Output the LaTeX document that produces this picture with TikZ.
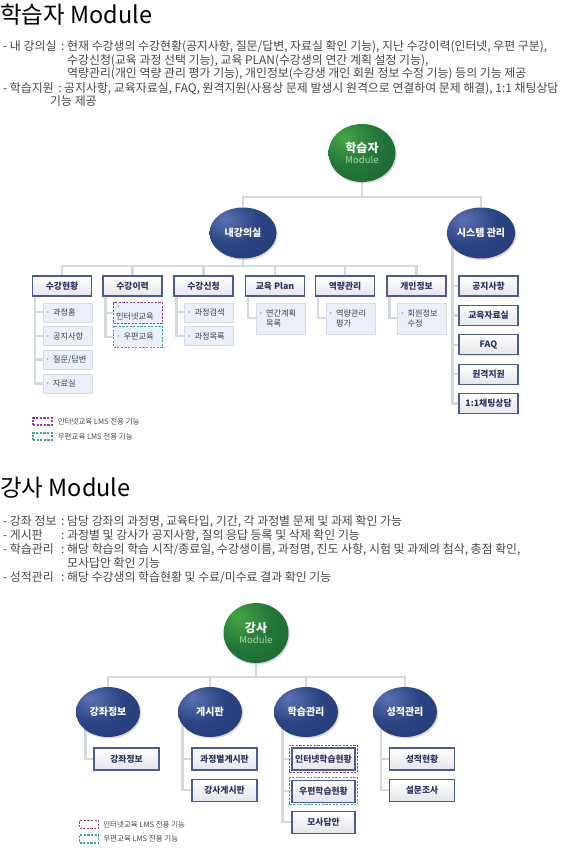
\documentclass[tikz,border=0pt]{standalone}
\usepackage{fontspec}
\setmainfont{Noto Sans CJK KR}
\usetikzlibrary{positioning, shapes.geometric, fit, backgrounds, shadows}

\definecolor{bodyclr}{HTML}{474747}
\definecolor{connclr}{HTML}{D3DADE}
\definecolor{boxline}{HTML}{4B5A9A}
\definecolor{boxbot}{HTML}{E4E5EA}
\definecolor{boxtxt}{HTML}{2C3566}
\definecolor{subfill}{HTML}{EAF0F9}
\definecolor{subline}{HTML}{D2DDEE}
\definecolor{subtxt}{HTML}{3A3F55}
\definecolor{inetclr}{HTML}{9A3D9C}
\definecolor{postclr}{HTML}{3BA897}
\definecolor{modgreen}{HTML}{A9D9A0}
\definecolor{greenin}{HTML}{45A443}
\definecolor{greenmid}{HTML}{23783A}
\definecolor{greenout}{HTML}{1A6130}
\definecolor{navyin}{HTML}{5A72B4}
\definecolor{navymid}{HTML}{2C4483}
\definecolor{navyout}{HTML}{223874}

\pgfdeclareradialshading{greenball}{\pgfpoint{-14bp}{14bp}}{color(0bp)=(greenin); color(22bp)=(greenmid); color(50bp)=(greenout); color(100bp)=(greenout)}
\pgfdeclareradialshading{navyball}{\pgfpoint{-14bp}{14bp}}{color(0bp)=(navyin); color(22bp)=(navymid); color(50bp)=(navyout); color(100bp)=(navyout)}

\begin{document}
\begin{tikzpicture}[x=1pt, y=-1pt,
    conn/.style={draw=connclr, line width=2.4pt},
    bodytxt/.style={anchor=base west, inner sep=0pt, text=bodyclr, font=\fontsize{11.9}{13}\selectfont},
    titletxt/.style={anchor=west, inner sep=0pt, text=black, font=\fontsize{23.5}{26}\selectfont},
    rootball/.style={ellipse, minimum width=67pt, minimum height=58pt, shade, shading=greenball, align=center, text=white, inner sep=0pt, drop shadow={opacity=0.3, shadow xshift=1.2pt, shadow yshift=-1.5pt}},
    menuball/.style={ellipse, minimum width=67pt, minimum height=51pt, shade, shading=navyball, text=white, inner sep=0pt, font=\bfseries\fontsize{10}{12}\selectfont, drop shadow={opacity=0.3, shadow xshift=1.2pt, shadow yshift=-1.5pt}},
    catbox/.style={draw=boxline, line width=1.1pt, top color=white, bottom color=boxbot, minimum width=59pt, minimum height=20pt, inner sep=0pt, text=boxtxt, font=\bfseries\fontsize{8.8}{11}\selectfont, drop shadow={opacity=0.2, shadow xshift=0.8pt, shadow yshift=-0.8pt}},
    itembox/.style={catbox, minimum width=65pt, minimum height=22pt, font=\bfseries\fontsize{8.8}{11}\selectfont},
    subbox/.style={draw=subline, fill=subfill, text width=44pt, align=left, inner xsep=2.5pt, inner ysep=0pt, minimum height=19pt, text=subtxt, font=\fontsize{8.2}{10.5}\selectfont, anchor=north},
    inetdash/.style={draw=inetclr, line width=1.2pt, dash pattern=on 2.2pt off 1.4pt},
    postdash/.style={draw=postclr, line width=1.2pt, dash pattern=on 2.2pt off 1.4pt},
    legbox/.style={minimum width=19pt, minimum height=7pt, inner sep=0pt},
    legtxt/.style={inner sep=0pt, text=bodyclr, font=\fontsize{7.5}{9}\selectfont}
  ]
  \useasboundingbox (0,0) rectangle (568,858);

  % 학습자 설명
  \node[titletxt] (title1) at (0,15) {학습자 Module};
  \node[bodytxt] (myroomlbl) at (3,50.5) {- 내 강의실};
  \node[bodytxt] (myroomcol) at (61,50.5) {:};
  \node[bodytxt] (myroomtxt1) at (67,50.5) {현재 수강생의 수강현황(공지사항, 질문/답변, 자료실 확인 기능), 지난 수강이력(인터넷, 우편 구분),};
  \node[bodytxt] (myroomtxt2) at (67,64.5) {수강신청(교육 과정 선택 기능), 교육 PLAN(수강생의 연간 계획 설정 기능),};
  \node[bodytxt] (myroomtxt3) at (67,78) {역량관리(개인 역량 관리 평가 기능), 개인정보(수강생 개인 회원 정보 수정 기능) 등의 기능 제공};
  \node[bodytxt] (supportlbl) at (3,92.5) {- 학습지원};
  \node[bodytxt] (supportcol) at (58.5,92.5) {:};
  \node[bodytxt] (supporttxt1) at (64,92.5) {공지사항, 교육자료실, FAQ, 원격지원(사용상 문제 발생시 원격으로 연결하여 문제 해결), 1:1 채팅상담};
  \node[bodytxt] (supporttxt2) at (50,106) {기능 제공};

  % 학습자 트리
  \node[rootball] (learner) at (362,153) {{\bfseries\fontsize{12}{14}\selectfont 학습자}\\[-1pt]{\color{modgreen}\fontsize{9.5}{11}\selectfont Module}};
  \node[menuball] (myroom) at (243,233) {내강의실};
  \node[menuball] (sysmgr) at (481,233) {시스템 관리};

  \foreach \i/\x/\t in {1/62/수강현황, 2/132.5/수강이력, 3/203.5/수강신청, 4/275/교육 Plan, 5/345/역량관리, 6/416.5/개인정보}
    \node[catbox] (cat\i) at (\x,286) {\t};

  % 하위 항목
  \node[subbox] (s1-1) at ([xshift=5.5pt, yshift=-6pt]cat1.south) {·\hspace{3pt}과정홈};
  \node[subbox, below=4.3pt of s1-1] (s1-2) {·\hspace{3pt}공지사항};
  \node[subbox, below=4.3pt of s1-2] (s1-3) {·\hspace{3pt}질문/답변};
  \node[subbox, below=4.3pt of s1-3] (s1-4) {·\hspace{3pt}자료실};
  \node[subbox, inetdash, minimum height=21pt] (s2-1) at ([xshift=5.5pt, yshift=-5.5pt]cat2.south) {·\hspace{3pt}인터넷교육};
  \node[subbox, postdash, minimum height=21pt, below=1.5pt of s2-1] (s2-2) {·\hspace{3pt}우편교육};
  \node[subbox] (s3-1) at ([xshift=5.5pt, yshift=-6pt]cat3.south) {·\hspace{3pt}과정검색};
  \node[subbox, below=4.3pt of s3-1] (s3-2) {·\hspace{3pt}과정목록};
  \node[subbox, minimum height=31pt] (s4-1) at ([xshift=5.5pt, yshift=-6pt]cat4.south) {·\hspace{3pt}연간계획\\\phantom{·}\hspace{3pt}목록};
  \node[subbox, minimum height=31pt] (s5-1) at ([xshift=5.5pt, yshift=-6pt]cat5.south) {·\hspace{3pt}역량관리\\\phantom{·}\hspace{3pt}평가};
  \node[subbox, minimum height=31pt] (s6-1) at ([xshift=5.5pt, yshift=-6pt]cat6.south) {·\hspace{3pt}회원정보\\\phantom{·}\hspace{3pt}수정};

  % 시스템 관리 항목
  \node[catbox] (sys1) at (488.5,286) {공지사항};
  \node[catbox, below=8.3pt of sys1] (sys2) {교육자료실};
  \node[catbox, below=8.3pt of sys2] (sys3) {FAQ};
  \node[catbox, below=8.3pt of sys3] (sys4) {원격지원};
  \node[catbox, below=8.3pt of sys4] (sys5) {1:1채팅상담};

  % 범례
  \node[legbox, inetdash] (leg1a) at (42.5,421.5) {};
  \node[legtxt, right=5pt of leg1a] (leg1atxt) {인터넷교육 LMS 전용 기능};
  \node[legbox, postdash] (leg1b) at (42.5,436.5) {};
  \node[legtxt, right=5pt of leg1b] (leg1btxt) {우편교육 LMS 전용 기능};

  \begin{scope}[on background layer]
    \coordinate (bus1) at (0,197);
    \coordinate (bus2) at (0,266);
    \draw[conn] (learner) -- (learner |- bus1);
    \draw[conn] (myroom) |- (sysmgr |- bus1) -- (sysmgr);
    \draw[conn] (myroom) -- (myroom |- bus2);
    \draw[conn] (cat1) |- (cat6 |- bus2) -- (cat6);
    \foreach \i in {2,...,5}
      \draw[conn] (cat\i) -- (cat\i |- bus2);
    % 하위 연결선
    \draw[conn] ([xshift=3pt]cat1.south west) |- (s1-4.west);
    \foreach \j in {1,2,3}
      \draw[conn] ([xshift=3pt]cat1.south west |- s1-\j.west) -- (s1-\j.west);
    \draw[conn] ([xshift=3pt]cat2.south west) |- (s2-2.west);
    \draw[conn] ([xshift=3pt]cat2.south west |- s2-1.west) -- (s2-1.west);
    \draw[conn] ([xshift=3pt]cat3.south west) |- (s3-2.west);
    \draw[conn] ([xshift=3pt]cat3.south west |- s3-1.west) -- (s3-1.west);
    \foreach \i in {4,5,6}
      \draw[conn] ([xshift=3pt]cat\i.south west) |- (s\i-1.west);
    \draw[conn] ([xshift=-6pt]sys1.west |- sysmgr) |- (sys5.west);
    \foreach \j in {1,...,4}
      \draw[conn] ([xshift=-6pt]sys\j.west) -- (sys\j.west);
  \end{scope}

  % 강사 설명
  \node[titletxt] (title2) at (0,488) {강사 Module};
  \node[bodytxt] (infolbl) at (3,525.5) {- 강좌 정보};
  \node[bodytxt] (infocol) at (61,525.5) {:};
  \node[bodytxt] (infotxt) at (67,525.5) {담당 강좌의 과정명, 교육타입, 기간, 각 과정별 문제 및 과제 확인 가능};
  \node[bodytxt] (boardlbl) at (3,539.5) {- 게시판};
  \node[bodytxt] (boardcol) at (61,539.5) {:};
  \node[bodytxt] (boardtxt) at (67,539.5) {과정별 및 강사가 공지사항, 질의 응답 등록 및 삭제 확인 기능};
  \node[bodytxt] (studylbl) at (3,553.5) {- 학습관리};
  \node[bodytxt] (studycol) at (61,553.5) {:};
  \node[bodytxt] (studytxt1) at (67,553.5) {해당 학습의 학습 시작/종료일, 수강생이름, 과정명, 진도 사항, 시험 및 과제의 첨삭, 총점 확인,};
  \node[bodytxt] (studytxt2) at (67,567.5) {모사답안 확인 기능};
  \node[bodytxt] (gradelbl) at (3,581.5) {- 성적관리};
  \node[bodytxt] (gradecol) at (61,581.5) {:};
  \node[bodytxt] (gradetxt) at (67,581.5) {해당 수강생의 학습현황 및 수료/미수료 결과 확인 기능};

  % 강사 트리
  \node[rootball, minimum width=65pt, minimum height=60pt] (teacher) at (256,633) {{\bfseries\fontsize{12}{14}\selectfont 강사}\\[-1pt]{\color{modgreen}\fontsize{9.5}{11}\selectfont Module}};
  \foreach \i/\x/\t in {1/108/강좌정보, 2/210/게시판, 3/306/학습관리, 4/405/성적관리}
    \node[menuball, minimum width=64pt, minimum height=50pt] (tm\i) at (\x,712) {\t};

  \node[itembox] (t1-1) at (126.5,759) {강좌정보};
  \node[itembox] (t2-1) at (224.5,759) {과정별게시판};
  \node[itembox, below=8pt of t2-1] (t2-2) {강사게시판};
  \node[itembox, minimum width=63pt] (t3-1) at (323.5,759) {인터넷학습현황};
  \node[itembox, minimum width=63pt, below=9pt of t3-1] (t3-2) {우편학습현황};
  \node[itembox, minimum width=63pt, below=8pt of t3-2] (t3-3) {모사답안};
  \node[itembox] (t4-1) at (422,759) {성적현황};
  \node[itembox, below=8pt of t4-1] (t4-2) {설문조사};
  \node[inetdash, inner sep=2pt, fit=(t3-1)] (t3-1dash) {};
  \node[postdash, inner sep=2pt, fit=(t3-2)] (t3-2dash) {};

  % 범례
  \node[legbox, inetdash, minimum height=8pt] (leg2a) at (89,824.5) {};
  \node[legtxt, right=4pt of leg2a] (leg2atxt) {인터넷교육 LMS 전용 기능};
  \node[legbox, postdash, minimum height=8pt] (leg2b) at (89,839) {};
  \node[legtxt, right=4pt of leg2b] (leg2btxt) {우편교육 LMS 전용 기능};

  \begin{scope}[on background layer]
    \coordinate (bus3) at (0,677);
    \draw[conn] (teacher) -- (teacher |- bus3);
    \draw[conn] (tm1) |- (tm4 |- bus3) -- (tm4);
    \foreach \i in {2,3}
      \draw[conn] (tm\i) -- (tm\i |- bus3);
    \draw[conn] ([xshift=-8pt]t1-1.west |- tm1) |- (t1-1.west);
    \draw[conn] ([xshift=-9pt]t2-1.west |- tm2) |- (t2-2.west);
    \draw[conn] ([xshift=-9pt]t2-1.west) -- (t2-1.west);
    \draw[conn] ([xshift=-9pt]t3-1.west |- tm3) |- (t3-3.west);
    \foreach \j in {1,2}
      \draw[conn] ([xshift=-9pt]t3-\j.west) -- (t3-\j.west);
    \draw[conn] ([xshift=-8pt]t4-1.west |- tm4) |- (t4-2.west);
    \draw[conn] ([xshift=-8pt]t4-1.west) -- (t4-1.west);
  \end{scope}
\end{tikzpicture}
\end{document}
